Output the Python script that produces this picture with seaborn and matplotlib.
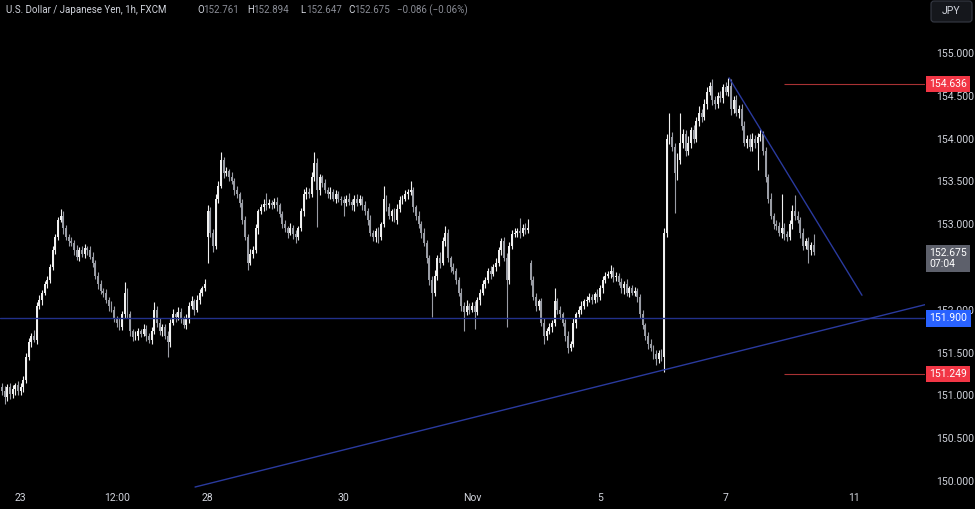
import matplotlib
matplotlib.use('Agg')
import matplotlib.pyplot as plt
import matplotlib.transforms as mtransforms
from matplotlib import font_manager
from matplotlib.patches import FancyBboxPatch
import numpy as np
import pandas as pd
import seaborn as sns

# USD/JPY 1h closes (one value per hourly bar)
closes = [
    151.05, 150.98, 151.10, 151.02, 151.08, 151.12, 151.05, 151.10, 151.18, 151.45,
    151.62, 151.70, 151.65, 152.05, 152.12, 152.20, 152.30, 152.35, 152.50, 152.70,
    152.85, 153.05, 153.10, 152.95, 152.85, 152.80, 152.78, 152.70, 152.62, 152.70,
    152.65, 152.72, 152.70, 152.62, 152.55, 152.40, 152.30, 152.22, 152.20, 152.12,
    152.05, 152.00, 151.90, 151.85, 151.80, 151.95, 152.20, 151.95, 151.75, 151.68,
    151.70, 151.75, 151.72, 151.78, 151.70, 151.65, 151.75, 152.00, 151.85, 151.75,
    151.80, 151.70, 151.62, 151.85, 151.95, 151.92, 151.98, 151.90, 151.82, 151.90,
    152.05, 152.10, 152.00, 152.12, 152.20, 152.25, 152.30, 153.15, 152.90, 152.75,
    153.30, 153.45, 153.75, 153.60, 153.62, 153.55, 153.50, 153.40, 153.35, 153.25,
    153.05, 152.85, 152.55, 152.65, 152.70, 152.95, 153.15, 153.20, 153.24, 153.22,
    153.25, 153.23, 153.26, 153.22, 153.12, 153.00, 152.95, 152.90, 152.95, 152.88,
    152.85, 152.95, 153.15, 153.35, 153.38, 153.35, 153.55, 153.72, 153.40, 153.55,
    153.48, 153.40, 153.35, 153.38, 153.30, 153.35, 153.30, 153.28, 153.25, 153.30,
    153.26, 153.22, 153.30, 153.25, 153.30, 153.22, 153.15, 153.05, 152.90, 152.85,
    152.92, 152.85, 153.00, 153.30, 153.20, 153.10, 153.15, 153.05, 153.18, 153.28,
    153.30, 153.35, 153.38, 153.40, 153.20, 153.10, 153.00, 152.90, 152.78, 152.60,
    152.35, 152.20, 152.40, 152.60, 152.55, 152.80, 152.90, 152.60, 152.50, 152.45,
    152.35, 152.20, 152.05, 151.98, 152.05, 152.00, 152.05, 151.98, 152.12, 152.20,
    152.30, 152.35, 152.45, 152.42, 152.50, 152.55, 152.70, 152.80, 152.60, 152.35,
    152.75, 152.88, 152.90, 152.92, 152.90, 152.95, 152.93, 152.96, 152.35, 152.15,
    152.05, 152.10, 151.85, 151.70, 151.75, 151.80, 151.85, 152.10, 152.00, 151.95,
    151.85, 151.70, 151.55, 151.60, 151.85, 151.95, 152.00, 152.05, 152.10, 152.12,
    152.15, 152.12, 152.18, 152.15, 152.25, 152.35, 152.40, 152.42, 152.45, 152.38,
    152.40, 152.32, 152.25, 152.30, 152.20, 152.25, 152.20, 152.22, 152.15, 151.95,
    151.82, 151.70, 151.60, 151.55, 151.48, 151.42, 151.50, 151.45, 152.90, 154.00,
    154.02, 153.90, 153.60, 153.75, 153.95, 154.05, 153.85, 153.95, 154.10, 154.00,
    154.20, 154.30, 154.25, 154.40, 154.55, 154.62, 154.45, 154.40, 154.50, 154.48,
    154.60, 154.55, 154.62, 154.35, 154.45, 154.30, 154.35, 154.15, 153.95, 154.00,
    153.90, 154.00, 153.95, 154.02, 154.05, 153.85, 153.55, 153.30, 153.10, 153.00,
    152.98, 152.90, 152.95, 152.88, 152.85, 153.00, 153.15, 153.10, 153.05, 152.90,
    152.75, 152.80, 152.70, 152.761, 152.675,
]
# wick length above / below the body, in hundredths of a yen
upper_wick = [
    4, 6, 3, 5, 4, 3, 5, 4, 5, 4,   5, 3, 6, 4, 5, 3, 4, 5, 3, 4,
    4, 3, 8, 5, 4, 3, 5, 4, 6, 3,   4, 5, 3, 4, 6, 3, 4, 5, 3, 4,
    3, 5, 4, 3, 6, 4, 12, 5, 4, 3,  5, 4, 3, 6, 4, 3, 5, 9, 4, 5,
    3, 4, 5, 4, 6, 3, 5, 4, 3, 5,   4, 6, 3, 5, 4, 3, 6, 7, 5, 4,
    5, 6, 9, 4, 5, 3, 6, 4, 5, 3,   4, 5, 3, 6, 4, 5, 3, 4, 5, 12,
    4, 3, 5, 6, 3, 4, 5, 3, 6, 4,   5, 3, 4, 6, 5, 4, 6, 12, 5, 4,
    3, 5, 4, 6, 3, 5, 4, 3, 5, 4,   6, 3, 4, 5, 4, 3, 5, 4, 6, 3,
    4, 5, 3, 15, 4, 5, 3, 4, 6, 5,  4, 5, 3, 10, 4, 3, 5, 4, 6, 3,
    4, 5, 6, 4, 8, 5, 8, 4, 3, 5,   4, 3, 5, 4, 6, 3, 4, 5, 3, 4,
    5, 3, 4, 6, 4, 5, 3, 4, 5, 6,   4, 5, 6, 4, 15, 5, 6, 10, 3, 4,
    5, 3, 4, 6, 4, 5, 3, 15, 4, 5,  3, 4, 5, 4, 6, 3, 4, 5, 3, 4,
    5, 4, 3, 6, 4, 5, 4, 3, 7, 5,   4, 3, 5, 4, 6, 3, 4, 5, 3, 4,
    5, 3, 4, 6, 4, 5, 3, 4, 5, 5,   28, 6, 5, 8, 35, 6, 5, 8, 4, 6,
    5, 8, 4, 6, 5, 4, 8, 5, 4, 6,   4, 6, 9, 8, 5, 6, 4, 5, 6, 4,
    5, 6, 4, 5, 6, 4, 5, 4, 6, 3,   5, 4, 40, 6, 4, 5, 8, 19, 5, 4,
    6, 4, 5, 3, 13,
]
lower_wick = [
    5, 8, 4, 6, 5, 7, 4, 5, 6, 3,   4, 6, 3, 5, 4, 6, 3, 5, 4, 3,
    5, 4, 3, 6, 4, 5, 3, 6, 4, 5,   3, 4, 6, 3, 5, 4, 6, 3, 5, 4,
    6, 3, 4, 5, 4, 3, 5, 4, 6, 5,   3, 5, 4, 3, 6, 4, 5, 3, 5, 4,
    6, 4, 17, 5, 3, 6, 4, 5, 3, 4,  5, 4, 6, 3, 5, 4, 3, 30, 5, 8,
    4, 5, 3, 6, 4, 5, 3, 6, 4, 5,   5, 4, 8, 3, 5, 4, 6, 3, 4, 5,
    3, 5, 4, 6, 3, 5, 4, 6, 3, 5,   7, 4, 3, 5, 6, 4, 3, 5, 43, 6,
    5, 3, 4, 6, 3, 5, 4, 6, 15, 4,  3, 5, 6, 4, 3, 5, 4, 6, 4, 5,
    6, 7, 4, 3, 5, 4, 6, 3, 5, 4,   4, 3, 5, 4, 6, 5, 4, 6, 3, 5,
    6, 28, 4, 5, 6, 3, 5, 4, 6, 3,  5, 4, 6, 23, 4, 5, 3, 20, 4, 6,
    3, 5, 4, 6, 3, 5, 4, 6, 3, 55,  5, 4, 3, 5, 6, 4, 5, 3, 6, 4,
    6, 5, 4, 10, 5, 3, 6, 4, 5, 6,  4, 6, 5, 3, 4, 6, 3, 5, 4, 6,
    3, 5, 4, 6, 3, 5, 4, 3, 5, 6,   4, 3, 5, 6, 4, 5, 3, 4, 6, 5,
    4, 5, 6, 3, 5, 6, 4, 5, 18, 5,  6, 5, 47, 8, 5, 6, 5, 4, 6, 5,
    4, 5, 6, 3, 5, 4, 6, 5, 4, 5,   6, 4, 5, 8, 5, 4, 6, 5, 4, 6,
    5, 4, 6, 32, 5, 4, 6, 5, 4, 6,  5, 4, 6, 7, 5, 4, 6, 5, 4, 6,
    5, 4, 15, 6, 3,
]
first_open = 151.10
gap_opens = {77: 152.85, 198: 152.55}   # weekend gaps

tick_bars = [7, 43, 77, 128, 176, 224, 271, 319]
tick_labels = ['23', '12:00', '28', '30', 'Nov', '5', '7', '11']
# 152.500 sits under the last-price box in the screenshot, so it is not shown
price_ticks = [150.0, 150.5, 151.0, 151.5, 152.0, 153.0, 153.5, 154.0, 154.5, 155.0]

support_level = 151.900
red_levels = [154.636, 151.249]
red_from_bar = 293
last_price = 152.675
countdown = '07:04'
rising_x, rising_y = [72.3, 345.7], [149.93, 152.06]
falling_x, falling_y = [272.3, 322.1], [154.71, 152.17]

assert len(closes) == len(upper_wick) == len(lower_wick)

opens = [first_open] + closes[:-1]
for i, v in gap_opens.items():
    opens[i] = v
df = pd.DataFrame({'open': opens, 'close': closes})
df['high'] = df[['open', 'close']].max(axis=1) + np.array(upper_wick) / 100
df['low'] = df[['open', 'close']].min(axis=1) - np.array(lower_wick) / 100
df['up'] = df['close'] >= df['open']

sns.set_theme(style='dark', rc={'axes.facecolor': 'black', 'figure.facecolor': 'black',
                                'axes.grid': False})
names = {f.name for f in font_manager.fontManager.ttflist}
main_font = 'Liberation Sans Narrow' if 'Liberation Sans Narrow' in names else 'Roboto'
plt.rcParams['font.family'] = [main_font, 'DejaVu Sans']

fig = plt.figure(figsize=(9.75, 5.09), dpi=100, facecolor='black')
ax = fig.add_axes([0, 20 / 509, 925 / 975, 489 / 509])
ax.set_facecolor('black')

colors = np.where(df['up'], '#f0f0f0', '#9a9da5')
ax.vlines(df.index, df['low'], df['high'], colors=colors, linewidth=0.8)
body_lo = df[['open', 'close']].min(axis=1)
body_h = (df['close'] - df['open']).abs().clip(lower=0.012)
ax.bar(df.index, body_h, bottom=body_lo, width=0.72, color=colors, linewidth=0)

# drawings
ax.axhline(support_level, color='#22308a', lw=1.0)
ax.plot(rising_x, rising_y, color='#2a3a9e', lw=1.0)
ax.plot(falling_x, falling_y, color='#2a3a9e', lw=1.0)
ax.hlines(red_levels, red_from_bar, 400, color='#a83234', lw=0.8)

ax.set_xlim(-0.75, 345.7)
ax.set_ylim(149.907, 155.619)
for s in ax.spines.values():
    s.set_visible(False)

ax.yaxis.tick_right()
ax.set_yticks(price_ticks, [f'{v:.3f}' for v in price_ticks])
ax.tick_params(axis='y', length=0, pad=8, colors='#d1d4dc', labelsize=7.5)
ax.set_xticks(tick_bars, tick_labels)
ax.tick_params(axis='x', length=0, pad=3, colors='#d1d4dc', labelsize=7.5)

# price labels on the axis
trans = mtransforms.blended_transform_factory(ax.transAxes, ax.transData)
for lvl, fc in [(red_levels[0], '#f23645'), (support_level, '#2962ff'), (red_levels[1], '#f23645')]:
    ax.text(1.005, lvl, f'{lvl:.3f}', transform=trans, color='white', fontsize=7.5,
            va='center', ha='left', clip_on=False, zorder=5,
            bbox=dict(boxstyle='square,pad=0.3', fc=fc, ec='none'))
last_trans = mtransforms.offset_copy(trans, fig=fig, y=-4.7, units='points')
ax.text(1.005, last_price, f'{last_price:.3f}\n{countdown}', transform=last_trans,
        color='white', fontsize=7.5, va='center', ha='left', clip_on=False, linespacing=1.15,
        zorder=5, bbox=dict(boxstyle='square,pad=0.3', fc='#5d606b', ec='none'))

# currency box top right
fig.patches.append(FancyBboxPatch((931, 487), 41, 21, boxstyle='round,pad=0,rounding_size=3',
                                  transform=mtransforms.IdentityTransform(),
                                  fc='#15171c', ec='#363a45', lw=0.8))
fig.text(951.5 / 975, 1 - 11 / 509, 'JPY', color='#d1d4dc', fontsize=7.5, ha='center', va='center')

# legend line at top left
top = 1 - 10 / 509
fig.text(6 / 975, top, 'U.S. Dollar / Japanese Yen, 1h, FXCM', color='#d1d4dc', fontsize=7, va='center')
ohlc = [('O', 197, '152.761'), ('H', 247, '152.894'), ('L', 300, '152.647'), ('C', 348, '152.675')]
for letter, px, val in ohlc:
    fig.text(px / 975, top, letter, color='#d1d4dc', fontsize=7, va='center')
    fig.text((px + 6) / 975, top, val, color='#8a8d96', fontsize=7, va='center')
fig.text(397 / 975, top, '\u22120.086 (\u22120.06%)', color='#8a8d96', fontsize=7, va='center')

fig.savefig('out.png', dpi=100, facecolor='black')
